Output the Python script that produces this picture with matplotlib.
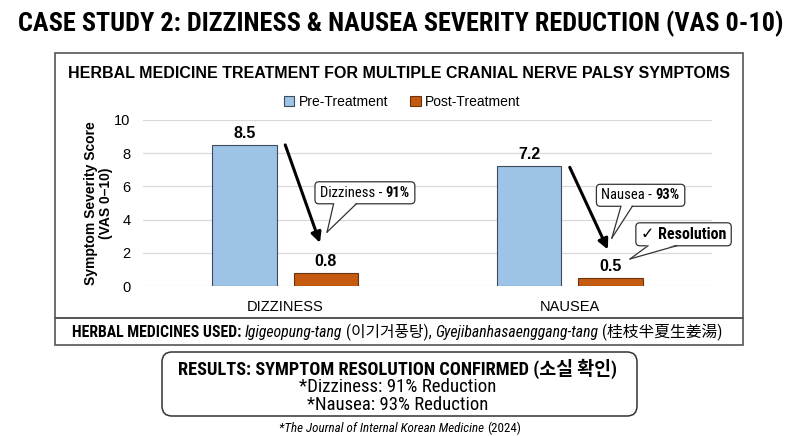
import matplotlib
matplotlib.use('Agg')
import matplotlib.pyplot as plt
from matplotlib import font_manager
from matplotlib.patches import Patch, FancyBboxPatch, Rectangle, Polygon
from matplotlib.lines import Line2D
from matplotlib.transforms import IdentityTransform
import numpy as np

# chart values
categories = ['DIZZINESS', 'NAUSEA']
series_labels = ['Pre-Treatment', 'Post-Treatment']
pre_treatment = [8.5, 7.2]
post_treatment = [0.8, 0.5]
reduction_pct = ['91%', '93%']
callout_names = ['Dizziness', 'Nausea']
y_ticks = [0, 2, 4, 6, 8, 10]

SANS = 'Liberation Sans'
KR = 'Noto Sans CJK KR'


def pick(cands, italic=False):
    # first condensed family that has a static bold (and italic if asked)
    for c in cands:
        ents = [f for f in font_manager.fontManager.ttflist if f.name == c]
        bold = any(isinstance(f.weight, int) and f.weight >= 600 and f.style == 'normal'
                   or f.weight == 'bold' for f in ents)
        ital = any(f.style == 'italic' for f in ents)
        if ents and bold and (ital or not italic):
            return c
    return SANS


NARROW_LIST = ['Liberation Sans Narrow', 'Arial Narrow', 'Roboto Condensed',
               'Fira Sans Condensed', 'IBM Plex Sans Condensed', 'PT Sans Narrow',
               'Archivo Narrow', 'Encode Sans Condensed']
NARROW = pick(NARROW_LIST)
NARROW_IT = pick(NARROW_LIST, italic=True)

plt.rcParams['font.family'] = [SANS, KR, 'DejaVu Sans']

W, H = 800, 436
fig = plt.figure(figsize=(8, 4.36), dpi=100)
fig.patch.set_facecolor('white')
r = fig.canvas.get_renderer()
ID = IdentityTransform()
PRE_C, POST_C = '#9DC3E6', '#C55A11'


def fit_text(s, cx, cy, width, size=12, **kw):
    # cx, cy in image pixels (top-left origin)
    t = fig.text(cx, H - cy, s, transform=ID, ha='center', va='center',
                 fontsize=size, **kw)
    w = t.get_window_extent(r).width
    t.set_fontsize(size * width / w)
    return t


def run_text(pieces, cx, cy_disp, size, family, zorder=6, width=None):
    # pieces: (text, style, weight); spaces are handled as gaps
    probe = fig.text(0, 0, '||', fontsize=size, family=family)
    w0 = probe.get_window_extent(r).width
    probe.set_text('| |')
    sw = probe.get_window_extent(r).width - w0
    probe.remove()
    arts, gaps = [], []
    for s, style, weight in pieces:
        lead = len(s) - len(s.lstrip(' '))
        trail = len(s) - len(s.rstrip(' '))
        t = fig.text(0, 0, s.strip(' '), transform=ID, ha='left', va='baseline',
                     fontsize=size, family=family, style=style, weight=weight,
                     zorder=zorder)
        arts.append(t)
        gaps.append((lead * sw, trail * sw))
    widths = [a.get_window_extent(r).width for a in arts]
    total = sum(widths) + sum(g[0] + g[1] for g in gaps)
    if width is not None:
        for a in arts:
            a.remove()
        return run_text(pieces, cx, cy_disp, size * width / total, family, zorder)
    base = cy_disp - 0.36 * size * 100 / 72
    x = cx - total / 2
    for a, w, (g1, g2) in zip(arts, widths, gaps):
        x += g1
        a.set_position((x, base))
        x += w + g2
    bb = [a.get_window_extent(r) for a in arts]
    return (min(b.x0 for b in bb), min(b.y0 for b in bb),
            max(b.x1 for b in bb), max(b.y1 for b in bb))


# frames
fig.add_artist(Rectangle((55, H - 318), 688, 265, transform=ID, fill=False,
                         ec='#555555', lw=1.2, zorder=1))
fig.add_artist(Rectangle((55, H - 345), 688, 27, transform=ID, fill=False,
                         ec='#555555', lw=1.2, zorder=1))
fig.add_artist(FancyBboxPatch((162, H - 416), 475, 64, transform=ID,
                              boxstyle='round,pad=0,rounding_size=10',
                              fc='white', ec='#333333', lw=1.1, zorder=1))

# titles
fit_text('CASE STUDY 2: DIZZINESS & NAUSEA SEVERITY REDUCTION (VAS 0-10)',
         401, 24, 766, family=[NARROW, SANS], weight='bold')
fit_text('HERBAL MEDICINE TREATMENT FOR MULTIPLE CRANIAL NERVE PALSY SYMPTOMS',
         399, 73, 658, family=SANS, weight='bold')

# bar chart
ax = fig.add_axes([143 / W, 1 - 286 / H, 569 / W, 166 / H])
x = np.arange(len(categories))
bw, off = 0.228, 0.143
b1 = ax.bar(x - off, pre_treatment, bw, color=PRE_C, edgecolor='#3d4c5c', lw=0.8, zorder=3)
b2 = ax.bar(x + off, post_treatment, bw, color=POST_C, edgecolor='#6b3410', lw=0.8, zorder=3)
ax.set_xlim(-0.5, 1.5)
ax.set_ylim(0, 10)
ax.set_yticks(y_ticks)
ax.set_xticks(x)
ax.set_xticklabels(categories, fontsize=10.5)
ax.tick_params(axis='both', length=0, labelsize=10.5)
ax.tick_params(axis='y', pad=9)
ax.tick_params(axis='x', pad=10)
ax.grid(axis='y', color='#d9d9d9', lw=0.9, zorder=0)
for s in ax.spines.values():
    s.set_visible(False)
ax.set_ylabel('Symptom Severity Score\n(VAS 0–10)', fontsize=10, weight='bold',
              linespacing=1.1)
ax.yaxis.set_label_coords(-0.053, 0.5)

for bars in (b1, b2):
    for b in bars:
        ax.annotate(f'{b.get_height():.1f}', (b.get_x() + b.get_width() / 2, b.get_height()),
                    xytext=(0, 3), textcoords='offset points', ha='center', va='bottom',
                    fontsize=11.5, weight='bold')

# legend
handles = [Patch(fc=PRE_C, ec='#3d4c5c', lw=0.8), Patch(fc=POST_C, ec='#6b3410', lw=0.8)]
fig.legend(handles, series_labels, loc='center', bbox_to_anchor=(402 / W, 1 - 102 / H),
           ncol=2, frameon=False, fontsize=10, handlelength=0.75, handleheight=0.75,
           handletextpad=0.3, columnspacing=1.6)

# reduction arrows
arrow_from = [(0.0, 8.5), (1.0, 7.15)]
arrow_to = [(0.122, 2.6), (1.134, 2.2)]
for a, b in zip(arrow_from, arrow_to):
    ax.annotate('', xy=b, xytext=a,
                arrowprops=dict(arrowstyle='-|>', lw=2.2, color='black', mutation_scale=15,
                                shrinkA=0, shrinkB=0))


def callout(pieces, center, base_x, tip, size=10.5, pad=(5, 4)):
    cx, cy = ax.transData.transform(center)
    x0, y0, x1, y1 = run_text(pieces, cx, cy, size, [NARROW, 'DejaVu Sans'], zorder=8)
    bx0, by0 = x0 - pad[0], y0 - pad[1]
    bx1, by1 = x1 + pad[0], y1 + pad[1]
    fig.add_artist(FancyBboxPatch((bx0, by0), bx1 - bx0, by1 - by0, transform=ID,
                                  boxstyle='round,pad=0,rounding_size=4',
                                  fc='white', ec='#333333', lw=0.9, zorder=6))
    p1 = ax.transData.transform((base_x[0], 0))[0]
    p2 = ax.transData.transform((base_x[1], 0))[0]
    tx, ty = ax.transData.transform(tip)
    fig.add_artist(Polygon([(p1, by0 + 1.2), (tx, ty), (p2, by0 + 1.2)], transform=ID,
                           closed=True, fc='white', ec='none', zorder=7))
    for p in (p1, p2):
        fig.add_artist(Line2D([p, tx], [by0, ty], transform=ID, color='#333333',
                              lw=0.9, zorder=7))


callout([(callout_names[0] + ' - ', 'normal', 'normal'), (reduction_pct[0], 'normal', 'bold')],
        (0.28, 5.69), (0.17, 0.25), (0.147, 3.25))
callout([(callout_names[1] + ' - ', 'normal', 'normal'), (reduction_pct[1], 'normal', 'bold')],
        (1.249, 5.54), (1.18, 1.22), (1.148, 2.89))
callout([('✓ Resolution', 'normal', 'bold')],
        (1.40, 3.19), (1.275, 1.375), (1.212, 1.63), size=11.5)

# herbal medicines line
herb = [('HERBAL MEDICINES USED: ', 'normal', 'bold'),
        ('Igigeopung-tang ', 'italic', 'normal'),
        ('(이기거풍탕), ', 'normal', 'normal'),
        ('Gyejibanhasaenggang-tang ', 'italic', 'normal'),
        ('(桂枝半夏生姜湯)', 'normal', 'normal')]
run_text(herb, 397, H - 331, 10.5, [NARROW_IT, KR], width=652)

# results box text
run_text([('RESULTS: SYMPTOM RESOLUTION CONFIRMED (소실 확인)', 'normal', 'bold')],
         398, H - 368, 11, [NARROW, KR], width=440)
run_text([('*Dizziness: 91% Reduction', 'normal', 'normal')], 398, H - 385, 11.5,
         [NARROW, KR], width=198)
run_text([('*Nausea: 93% Reduction', 'normal', 'normal')], 398, H - 403, 11.5,
         [NARROW, KR], width=182)

# source
run_text([('*The Journal of Internal Korean Medicine ', 'italic', 'normal'),
          ('(2024)', 'normal', 'normal')], 400, H - 427, 8.5, [NARROW_IT, KR], width=240)

fig.savefig('out.png', dpi=100)
